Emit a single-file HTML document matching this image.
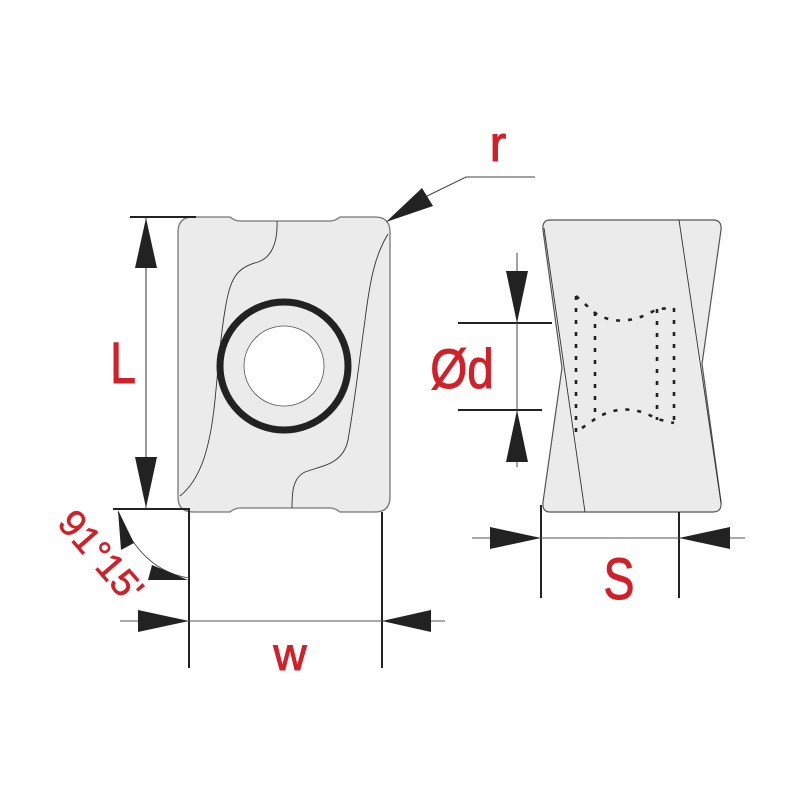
<!DOCTYPE html>
<html><head><meta charset="utf-8"><style>html,body{margin:0;padding:0;background:#fff}svg{display:block}</style></head>
<body>
<svg width="800" height="800" viewBox="0 0 800 800" xmlns="http://www.w3.org/2000/svg">
<!-- left insert -->
<path d="M193,217 L230,217 Q235,221 240,221 L330,221 Q335,221 340,217 L375,217 Q390,217 390,232 L390,497 Q390,512 375,512 L340,512 Q335,508 330,508 L240,508 Q235,508 230,512 L193,512 Q178,512 178,497 L178,232 Q178,217 193,217 Z" fill="#ebebeb" stroke="#777" stroke-width="1.3"/>
<path d="M277,221 C278,245 270,258 258,262 C235,268 230,280 225,310 C220,340 218,370 215,400 C210,450 200,480 180,496" fill="none" stroke="#333" stroke-width="0.9"/>
<path d="M388,234 C375,255 370,280 365,320 C358,370 355,400 348,440 C343,465 320,466 305,472 C292,478 292,495 292,508" fill="none" stroke="#333" stroke-width="0.9"/>
<circle cx="284" cy="366" r="64" fill="none" stroke="#222" stroke-width="7"/>
<circle cx="284" cy="366" r="40" fill="#fff" stroke="#555" stroke-width="0.8"/>
<!-- L dimension -->
<line x1="130" y1="217" x2="196" y2="217" stroke="#222" stroke-width="2"/>
<line x1="113" y1="509" x2="190" y2="509" stroke="#222" stroke-width="2"/>
<line x1="146" y1="217" x2="146" y2="509" stroke="#333" stroke-width="1"/>
<polygon points="146,218 135,268 157,268" fill="#222"/>
<polygon points="146,508 135,457 157,457" fill="#222"/>
<g font-family="Liberation Sans, sans-serif" fill="#d0202a" stroke="#d0202a" stroke-width="1">
<text x="123" y="383" font-size="58" text-anchor="middle" transform="translate(123 0) scale(0.8 1) translate(-123 0)">L</text>
<text x="290" y="670" font-size="46" text-anchor="middle">w</text>
<text x="0" y="0" font-size="38" stroke-width="0.6" transform="translate(56 524) rotate(49)">91°15'</text>
<text x="498" y="161" font-size="50" text-anchor="middle">r</text>
<text x="462" y="388" font-size="56" text-anchor="middle" transform="translate(462 0) scale(0.85 1) translate(-462 0)">Ød</text>
<text x="619" y="599" font-size="58" text-anchor="middle" transform="translate(619 0) scale(0.8 1) translate(-619 0)">S</text>
</g>
<!-- w dimension -->
<line x1="189" y1="509" x2="189" y2="668" stroke="#222" stroke-width="2"/>
<line x1="382" y1="512" x2="382" y2="668" stroke="#222" stroke-width="2"/>
<line x1="120" y1="621" x2="445" y2="621" stroke="#555" stroke-width="1"/>
<polygon points="189,621 138,610 138,632" fill="#222"/>
<polygon points="382,621 431,610 431,632" fill="#222"/>
<!-- angle -->
<path d="M118,512 Q140,570 189,578" fill="none" stroke="#444" stroke-width="0.8"/>
<polygon points="118,510 121,550 134,543" fill="#222"/>
<polygon points="188,580 152,565 148,580" fill="#222"/>
<!-- r -->
<polyline points="535,177 466,177 425,197" fill="none" stroke="#444" stroke-width="1"/>
<polygon points="386,222 422,188 433,206" fill="#222"/>
<!-- right view -->
<path d="M550,220 L713,220 Q722,220 721,230 L702,364 L721,502 Q722,512 713,512 L550,512 Q542,512 543,502 L562,368 L543,230 Q542,220 550,220 Z" fill="#ebebeb" stroke="#555" stroke-width="1.2"/>
<line x1="544" y1="228" x2="585" y2="512" stroke="#333" stroke-width="0.9"/>
<line x1="679" y1="220" x2="721" y2="503" stroke="#333" stroke-width="0.9"/>
<g fill="none" stroke="#222" stroke-width="2.6" stroke-dasharray="4 8">
<path d="M576,296 L576,436"/>
<path d="M595,312 L595,420"/>
<path d="M657,309 L657,420"/>
<path d="M674,308 L674,422"/>
<path d="M576,296 L595,313 Q622,330 657,309 L674,308"/>
<path d="M582,428 L595,419 Q625,400 657,419 L674,423"/>
</g>
<!-- Ød -->
<line x1="458" y1="323" x2="552" y2="323" stroke="#222" stroke-width="2"/>
<line x1="458" y1="410" x2="542" y2="410" stroke="#222" stroke-width="2"/>
<line x1="517" y1="253" x2="517" y2="467" stroke="#444" stroke-width="1"/>
<polygon points="517,323 506,271 528,271" fill="#222"/>
<polygon points="517,410 506,462 528,462" fill="#222"/>
<!-- S -->
<line x1="541" y1="505" x2="541" y2="598" stroke="#222" stroke-width="2"/>
<line x1="679" y1="512" x2="679" y2="598" stroke="#222" stroke-width="2"/>
<line x1="472" y1="538" x2="745" y2="538" stroke="#555" stroke-width="1"/>
<polygon points="541,538 490,527 490,549" fill="#222"/>
<polygon points="679,538 730,527 730,549" fill="#222"/>
</svg>
</body></html>
